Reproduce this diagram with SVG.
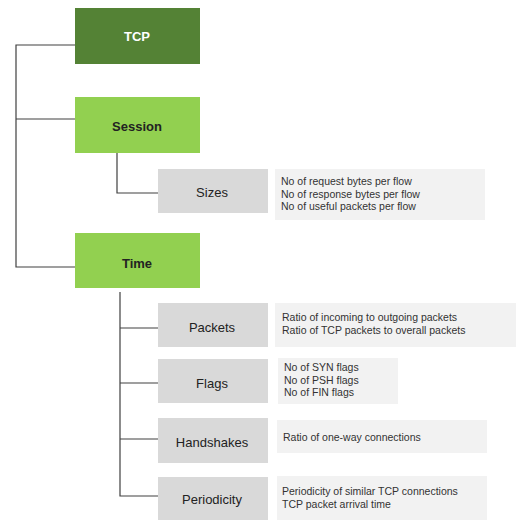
<svg xmlns="http://www.w3.org/2000/svg" width="516" height="520" viewBox="0 0 516 520">
<style>
.n rect{stroke:none}
.l{font-family:"Liberation Sans",Arial,sans-serif;font-size:13px;text-anchor:middle;dominant-baseline:central;fill:#222}
.b{font-weight:bold}
.d{font-family:"Liberation Sans",Arial,sans-serif;font-size:10.5px;fill:#333}
.c{fill:none;stroke:#404040;stroke-width:1.2}
</style>
<rect width="516" height="520" fill="#fff"/>
<g id="connectors">
<polyline class="c" points="75,45 16,45 16,267 75,267"/>
<line class="c" x1="16" y1="119" x2="75" y2="119"/>
<polyline class="c" points="117,153 117,193 158,193"/>
<polyline class="c" points="120,292 120,496 158,496"/>
<line class="c" x1="120" y1="328" x2="158" y2="328"/>
<line class="c" x1="120" y1="383" x2="158" y2="383"/>
<line class="c" x1="120" y1="439" x2="158" y2="439"/>
</g>
<g id="tcp" class="n"><rect x="75" y="8" width="125" height="56" fill="#548235"/><text class="l b" x="137" y="36" fill="#fff" style="fill:#fff">TCP</text></g>
<g id="session" class="n"><rect x="75" y="97" width="125" height="56" fill="#92d050"/><text class="l b" x="137" y="126">Session</text></g>
<g id="time" class="n"><rect x="75" y="233" width="125" height="55" fill="#92d050"/><text class="l b" x="137" y="263">Time</text></g>
<g id="sizes" class="n"><rect x="158" y="169" width="110" height="44" fill="#d9d9d9"/><text class="l" x="212" y="192">Sizes</text></g>
<g id="sizes-desc" class="n"><rect x="275" y="169" width="210" height="51" fill="#f2f2f2"/>
<text class="d" x="281" y="185">No of request bytes per flow</text>
<text class="d" x="281" y="197.5">No of response bytes per flow</text>
<text class="d" x="281" y="210">No of useful packets per flow</text></g>
<g id="packets" class="n"><rect x="158" y="303" width="110" height="44" fill="#d9d9d9"/><text class="l" x="212" y="327">Packets</text></g>
<g id="packets-desc" class="n"><rect x="275" y="303" width="241" height="44" fill="#f2f2f2"/>
<text class="d" x="282" y="321">Ratio of incoming to outgoing packets</text>
<text class="d" x="282" y="334">Ratio of TCP packets to overall packets</text></g>
<g id="flags" class="n"><rect x="158" y="359" width="110" height="44" fill="#d9d9d9"/><text class="l" x="212" y="383">Flags</text></g>
<g id="flags-desc" class="n"><rect x="278" y="358" width="120" height="46" fill="#f2f2f2"/>
<text class="d" x="284" y="371">No of SYN flags</text>
<text class="d" x="284" y="383.5">No of PSH flags</text>
<text class="d" x="284" y="396">No of FIN flags</text></g>
<g id="handshakes" class="n"><rect x="158" y="418" width="110" height="45" fill="#d9d9d9"/><text class="l" x="212" y="442">Handshakes</text></g>
<g id="handshakes-desc" class="n"><rect x="277" y="420" width="210" height="33" fill="#f2f2f2"/>
<text class="d" x="283" y="441">Ratio of one-way connections</text></g>
<g id="periodicity" class="n"><rect x="158" y="477" width="110" height="43" fill="#d9d9d9"/><text class="l" x="212" y="499">Periodicity</text></g>
<g id="periodicity-desc" class="n"><rect x="277" y="476" width="210" height="44" fill="#f2f2f2"/>
<text class="d" x="282" y="495">Periodicity of similar TCP connections</text>
<text class="d" x="282" y="508">TCP packet arrival time</text></g>
</svg>
